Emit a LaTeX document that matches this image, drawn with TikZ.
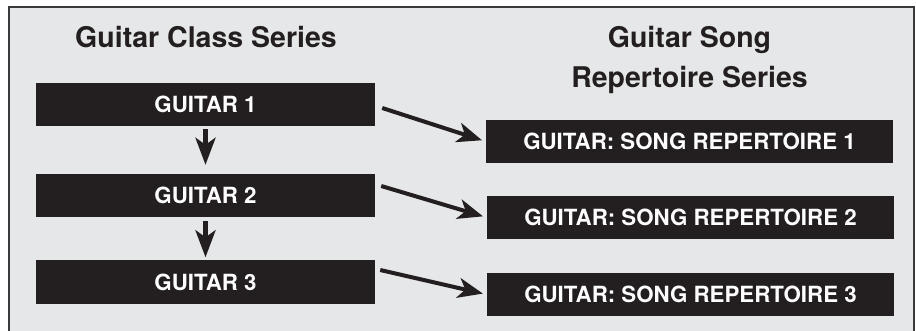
\documentclass[tikz,border=0pt]{standalone}
\usepackage{fontspec}
\setmainfont{TeX Gyre Heros}
\usetikzlibrary{arrows.meta}
\definecolor{bg}{HTML}{E6E7E8}
\definecolor{ink}{HTML}{231F20}
\definecolor{framec}{HTML}{3A3A3A}
\tikzset{
  classbox/.style={fill=ink, text=white, inner sep=0pt, minimum width=339pt, minimum height=43pt,
    font=\fontsize{22.3}{24}\selectfont\bfseries},
  songbox/.style={fill=ink, text=white, inner sep=0pt, minimum width=407pt, minimum height=43pt,
    font=\fontsize{22.3}{24}\selectfont\bfseries},
  title/.style={text=ink, align=center, inner sep=0pt, font=\fontsize{28.5}{40}\selectfont\bfseries},
  downarrow/.style={draw=ink, line width=4.5pt, -{Stealth[length=27pt, width=20pt, inset=7pt]}},
  sidearrow/.style={draw=ink, line width=4pt, -{Stealth[length=25pt, width=20pt, inset=7pt]}, shorten >=4pt}
}
\begin{document}
\begin{tikzpicture}[x=1pt, y=-1pt]
\useasboundingbox (0,0) rectangle (916,331);
\begin{scope}
\clip (0,0) rectangle (916,331);
\draw[fill=bg, draw=framec, line width=2pt] (9,7.5) rectangle (914,345);
\end{scope}
\node[title, anchor=base] (t1) at (206,48) {Guitar Class Series};
\node[title, anchor=base] (t2) at (689.5,87.5) {Guitar Song\\Repertoire Series};

\node[classbox] (g1) at (205.5,104.5) {GUITAR 1};
\node[classbox] (g2) at (205.5,195.5) {GUITAR 2};
\node[classbox] (g3) at (205.5,282) {GUITAR 3};

\node[songbox] (r1) at (689.5,141.5) {GUITAR: SONG REPERTOIRE 1};
\node[songbox] (r2) at (690.5,217.5) {GUITAR: SONG REPERTOIRE 2};
\node[songbox] (r3) at (690.5,294.5) {GUITAR: SONG REPERTOIRE 3};

\draw[downarrow, shorten <=3pt, shorten >=9pt] (g1.south) -- (g2.north);
\draw[downarrow, shorten <=4pt, shorten >=3pt] (g2.south) -- (g3.north);

\coordinate (s1) at ([shift={(7,3.5)}]g1.east);
\coordinate (s2) at ([shift={(6,-9.5)}]g2.east);
\coordinate (s3) at ([shift={(5,-12)}]g3.east);
\draw[sidearrow] (s1) -- (r1.west);
\draw[sidearrow] (s2) -- (r2.west);
\draw[sidearrow] (s3) -- (r3.west);
\end{tikzpicture}
\end{document}
